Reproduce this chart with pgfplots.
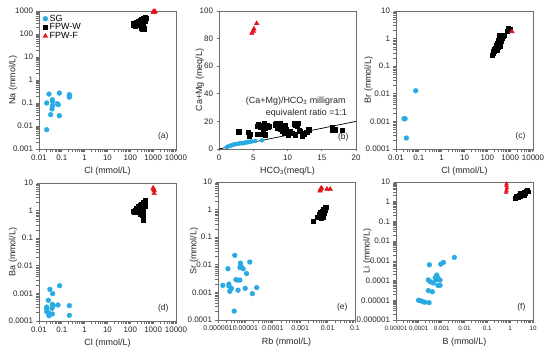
\documentclass[border=0pt]{standalone}
\usepackage{pgfplots}
\pgfplotsset{compat=1.18}
\usepackage{fontspec}
\setmainfont{Liberation Sans}
\definecolor{sgc}{HTML}{29ABE2}
\definecolor{fpf}{HTML}{E3141C}
\definecolor{framec}{HTML}{6E6E6E}
\tikzset{plab/.style={anchor=south east, font=\fontsize{8.5}{9}\selectfont, text=black!85}}
\pgfplotsset{
  panel/.style={
    scale only axis, width=137bp, height=138bp,
    axis line style={framec, line width=0.9bp},
    every tick/.style={framec, line width=0.7bp},
    tick align=outside, major tick length=2.5bp,
    xtick pos=bottom, ytick pos=left,
    tick label style={font=\fontsize{8}{9}\selectfont, text=black!85},
    label style={font=\fontsize{9}{10}\selectfont, text=black!85},
    xlabel style={at={(axis description cs:0.5,-0.16)}, anchor=center},
    ylabel style={at={(axis description cs:-0.19,0.5)}, anchor=center},
    clip=false,
    /pgf/number format/assume math mode=true,
  },
  sg/.style={only marks, mark=*, mark size=2.4bp, color=sgc, mark options={draw=sgc, fill=sgc}},
  fw/.style={only marks, mark=square*, mark size=2.1bp, color=black},
  ff/.style={only marks, mark=triangle*, mark size=2.7bp, color=fpf, mark options={draw=fpf, fill=fpf}},
}
\begin{document}
\begin{tikzpicture}
\useasboundingbox (0bp,0bp) rectangle (550bp,350bp);
% (a)
\begin{axis}[panel, at={(39bp,201bp)}, anchor=south west,
  xmode=log, ymode=log, xmin=0.01, xmax=10000, ymin=0.001, ymax=1000,
  xtick={0.01,0.1,1,10,100,1000,10000},
  xticklabels={0.01,0.1,1,10,100,1000,10000},
  ytick={0.001,0.01,0.1,1,10,100,1000},
  yticklabels={0.001,0.01,0.1,1,10,100,1000},
  minor xtick={}, minor ytick={},
  xlabel={Cl (mmol/L)}, ylabel={Na (mmol/L)},
  legend style={at={(0.02,0.995)}, anchor=north west, draw=none, fill=none,
    font=\fontsize{9}{9}\selectfont, row sep=-3bp, inner sep=1bp},
  legend cell align=left]
\addplot[sg] coordinates {(0.0217,0.1)(0.0274,0.245)(0.0384,0.138)(0.039,0.117)(0.039,0.075)(0.037,0.055)(0.0324,0.031)(0.0217,0.0069)(0.0777,0.27)(0.0634,0.093)(0.07,0.085)(0.0777,0.028)(0.213,0.23)(0.213,0.2)(0.213,0.18)};
\addlegendentry{SG}
\addplot[fw] coordinates {(135,250)(135,290)(160,230)(160,270)(160,300)(189,240)(189,280)(189,320)(224,250)(224,290)(224,350)(265,240)(265,300)(265,380)(315,200)(315,260)(315,340)(315,420)(372,180)(372,230)(372,300)(372,400)(372,480)(440,350)(440,450)(440,510)(350,160)(400,170)(480,470)(300,180)(340,210)(250,330)};
\addlegendentry{FPW-W}
\addplot[ff] coordinates {(1000,900)(1050,950)(1100,870)(1150,920)(1200,960)};
\addlegendentry{FPW-F}
\node[plab] at (rel axis cs:0.97,0.04) {(a)};
\end{axis}
% (b)
\begin{axis}[panel, at={(219bp,201bp)}, anchor=south west,
  xmin=0, xmax=20, ymin=0, ymax=100,
  xtick={0,5,10,15,20}, xticklabels={0,5,10,15,20},
  ytick={0,20,40,60,80,100}, yticklabels={0,20,40,60,80,100},
  xlabel={HCO\textsubscript{3}(meq/L)}, ylabel={Ca+Mg (meq/L)},
  ylabel style={at={(axis description cs:-0.14,0.5)}, anchor=center}]
\addplot[black, line width=0.7bp, no marks] coordinates {(0,0)(20,20)};
\addplot[sg, mark size=2bp] coordinates {(1.13,1.45)(1.37,1.9)(1.62,2.4)(1.86,2.65)(2.1,3.1)(2.25,3.4)(2.5,3.6)(2.84,3.9)(3.1,4.3)(3.33,4.1)(3.58,4.3)(3.82,4.6)(4.07,4.8)(4.3,5.1)(4.56,5.3)(4.8,5.5)(5.3,5.8)(6.27,6.3)};
\addplot[fw] coordinates {(2.89,12.5)(4.31,12.0)(4.56,10.8)(4.41,9.6)(5.64,10.6)(6.03,10.6)(5.64,16.4)(5.78,17.6)(6.03,15.9)(6.27,17.3)(6.62,18.3)(6.76,15.2)(7.0,16.9)(7.1,15.7)(6.5,12.0)(6.76,10.4)(7.25,16.4)(8.24,17.6)(8.38,18.8)(8.48,16.4)(8.58,15.2)(8.73,16.9)(8.87,18.3)(8.97,14.5)(9.2,12.8)(9.46,11.6)(9.7,16.9)(9.85,14.0)(10.05,10.4)(10.44,12.8)(10.69,11.6)(10.93,18.3)(11.18,17.6)(11.42,16.4)(11.52,18.8)(11.18,10.4)(11.67,13.5)(11.9,12.8)(12.16,9.2)(12.4,11.1)(12.8,12.0)(13.1,14.0)(16.5,15.8)(16.6,13.5)(16.9,14.0)(18.0,13.8)};
\addplot[ff] coordinates {(4.8,84)(5.0,85.5)(5.1,87)(5.5,91)};
\node[anchor=east, font=\fontsize{9}{10}\selectfont, text=black!85] at (axis cs:19.0,34.7) {(Ca+Mg)/HCO\textsubscript{3} milligram};
\node[anchor=east, font=\fontsize{9}{10}\selectfont, text=black!85] at (axis cs:19.2,26) {equivalent ratio =1:1};
\node[plab] at (rel axis cs:0.97,0.03) {(b)};
\end{axis}
% (c)
\begin{axis}[panel, at={(396bp,201bp)}, anchor=south west,
  xmode=log, ymode=log, xmin=0.01, xmax=10000, ymin=0.0001, ymax=10,
  xtick={0.01,0.1,1,10,100,1000,10000},
  xticklabels={0.01,0.1,1,10,100,1000,10000},
  ytick={0.0001,0.001,0.01,0.1,1,10},
  yticklabels={0.0001,0.001,0.01,0.1,1,10},
  minor xtick={}, minor ytick={},
  xlabel={Cl (mmol/L)}, ylabel={Br (mmol/L)},
  ylabel style={at={(axis description cs:-0.2,0.5)}, anchor=center}]
\addplot[sg] coordinates {(0.0224,0.00125)(0.025,0.00125)(0.0284,0.00025)(0.073,0.0129)};
\addplot[fw] coordinates {(160,0.257)(175,0.3)(190,0.34)(205,0.4)(225,0.45)(240,0.55)(265,0.68)(265,0.39)(290,0.8)(316,0.9)(330,1.1)(350,1.35)(375,0.52)(330,0.6)(400,0.8)(440,1.0)(480,1.2)(520,1.35)(300,0.5)(720,1.8)(800,2.0)(850,2.35)(950,2.2)(1000,2.1)};
\addplot[ff] coordinates {(1200,1.8)};
\node[plab] at (rel axis cs:0.97,0.04) {(c)};
\end{axis}
% (d)
\begin{axis}[panel, at={(39bp,29bp)}, anchor=south west,
  xmode=log, ymode=log, xmin=0.01, xmax=10000, ymin=0.0001, ymax=10,
  xtick={0.01,0.1,1,10,100,1000,10000},
  xticklabels={0.01,0.1,1,10,100,1000,10000},
  ytick={0.0001,0.001,0.01,0.1,1,10},
  yticklabels={0.0001,0.001,0.01,0.1,1,10},
  minor xtick={}, minor ytick={},
  xlabel={Cl (mmol/L)}, ylabel={Ba (mmol/L)}]
\addplot[sg] coordinates {(0.030,0.0014)(0.0397,0.00098)(0.080,0.0019)(0.0256,0.00056)(0.0217,0.00032)(0.0217,0.00028)(0.0217,0.00022)(0.0256,0.0002)(0.0274,0.000155)(0.0384,0.00018)(0.0384,0.0004)(0.042,0.00036)(0.037,0.00029)(0.068,0.00038)(0.213,0.00036)(0.213,0.00016)};
\addplot[fw] coordinates {(135,0.95)(160,1.06)(189,1.26)(189,0.87)(224,1.4)(224,1.0)(265,1.5)(265,1.06)(265,0.76)(315,1.75)(315,1.1)(315,0.76)(372,2.0)(372,1.33)(372,0.87)(440,2.3)(440,1.5)(372,0.46)(350,0.66)(150,0.85)(210,0.9)(290,1.3)(340,0.95)(400,1.8)};
\addplot[ff] coordinates {(1000,6.6)(1100,5.3)(1100,4.2)(1050,6.0)};
\node[plab] at (rel axis cs:0.97,0.04) {(d)};
\end{axis}
% (e)
\begin{axis}[panel, at={(218bp,30bp)}, anchor=south west,
  xmode=log, ymode=log, xmin=0.000001, xmax=0.1, ymin=0.0001, ymax=10,
  xtick={0.000001,0.00001,0.0001,0.001,0.01,0.1},
  xticklabels={0.000001,0.00001,0.0001,0.001,0.01,0.1},
  xticklabel style={font=\fontsize{7}{8}\selectfont},
  ytick={0.0001,0.001,0.01,0.1,1,10},
  yticklabels={0.0001,0.001,0.01,0.1,1,10},
  minor xtick={}, minor ytick={},
  xlabel={Rb (mmol/L)}, ylabel={Sr (mmol/L)},
  ylabel style={at={(axis description cs:-0.175,0.5)}, anchor=center}]
\addplot[sg] coordinates {(4.1e-6,0.022)(2.3e-6,0.0072)(6.6e-6,0.0115)(6.8e-6,0.0093)(6.3e-6,0.008)(8.3e-6,0.0072)(1.45e-5,0.0126)(1.1e-5,0.0048)(4.5e-6,0.0029)(5.1e-6,0.0028)(6.3e-6,0.0028)(1.5e-6,0.0018)(2.5e-6,0.002)(2.5e-6,0.0017)(3.1e-6,0.0014)(2.7e-6,0.0011)(5.4e-6,0.0012)(9.8e-6,0.0014)(2.6e-5,0.0015)(1.8e-5,0.0009)(3.9e-6,0.00021)};
\addplot[fw] coordinates {(0.0029,0.37)(0.0041,0.52)(0.0048,0.69)(0.0048,0.55)(0.0055,0.79)(0.0055,0.6)(0.0063,0.9)(0.0063,0.65)(0.0072,1.05)(0.0072,0.73)(0.0083,1.2)(0.0088,1.26)(0.0075,0.85)(0.0052,0.73)(0.0068,0.55)(0.0080,0.95)(0.0060,0.5)};
\addplot[ff] coordinates {(0.0053,4.8)(0.0055,5.5)(0.006,6.0)(0.0095,5.5)(0.0125,5.5)};
\node[plab] at (rel axis cs:0.97,0.04) {(e)};
\end{axis}
% (f)
\begin{axis}[panel, at={(396bp,30bp)}, anchor=south west,
  xmode=log, ymode=log, xmin=0.00001, xmax=10, ymin=0.000001, ymax=10,
  xtick={0.00001,0.0001,0.001,0.01,0.1,1,10},
  xticklabels={0.00001,0.0001,0.001,0.01,0.1,1,10},
  xticklabel style={font=\fontsize{6.3}{7}\selectfont},
  ytick={0.000001,0.00001,0.0001,0.001,0.01,0.1,1,10},
  yticklabels={0.000001,0.00001,0.0001,0.001,0.01,0.1,1,10},
  minor xtick={}, minor ytick={},
  xlabel={B (mmol/L)}, ylabel={Li (mmol/L)},
  ylabel style={at={(axis description cs:-0.21,0.5)}, anchor=center}]
\addplot[sg] coordinates {(9.7e-5,1.0e-5)(1.2e-4,9.5e-6)(1.5e-4,8.5e-6)(1.8e-4,8e-6)(2.8e-4,7.6e-6)(2.9e-4,6.3e-4)(2.6e-4,1.07e-4)(3.2e-4,8.7e-5)(4.3e-4,7.6e-5)(2.6e-4,3.1e-5)(3.9e-4,2.7e-5)(5.7e-4,1.1e-4)(5.2e-4,1.4e-4)(6.1e-4,1.9e-4)(6.8e-4,1.4e-4)(8.5e-4,1.06e-4)(6.8e-4,5.7e-5)(8.5e-4,5.7e-5)(9.1e-4,6.8e-4)(1.2e-3,8.4e-4)(3.6e-3,1.5e-3)};
\addplot[fw, mark size=1.9bp] coordinates {(1.7,1.54)(1.85,1.87)(2.2,1.73)(2.4,2.2)(2.9,1.87)(3.1,2.55)(3.6,2.27)(3.9,2.98)(4.5,2.75)(5.2,3.35)(5.7,3.77)(6.1,3.2)(2.6,2.76)(4.2,2.0)(2.0,1.6)(3.3,2.1)(4.8,3.6)};
\addplot[ff, mark size=2.2bp] coordinates {(0.69,8)(0.69,6.5)(0.72,5.0)(0.69,3.8)(0.67,3.0)};
\node[plab] at (rel axis cs:0.97,0.04) {(f)};
\end{axis}
\end{tikzpicture}
\end{document}
